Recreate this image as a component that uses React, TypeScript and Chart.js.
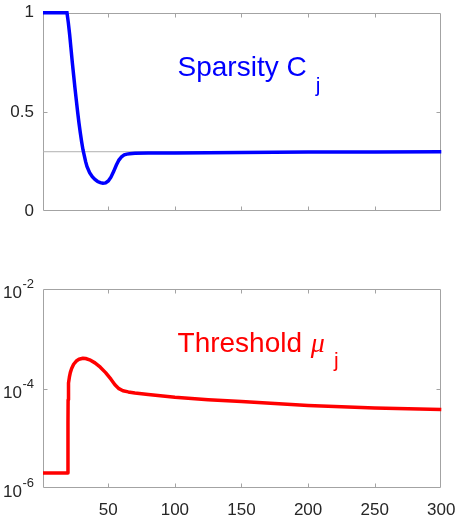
import React, { useEffect, useRef } from "react";
import { Chart, registerables } from "chart.js";

Chart.register(...registerables);

// ---- data ----
const xMin = 1;
const xMax = 300;
const xTicks = [50, 100, 150, 200, 250, 300];

const sparsityX = [1, 19, 20, 21, 22, 23, 24, 25, 26, 27, 28, 29, 30, 31, 32, 33, 34, 36, 38, 40, 42, 44, 46, 48, 50, 52, 54, 56, 58, 60, 62, 64, 66, 70, 80, 100, 150, 200, 250, 300];
const sparsityY = [1, 1, 0.95, 0.89, 0.82, 0.75, 0.685, 0.62, 0.56, 0.5, 0.445, 0.395, 0.35, 0.31, 0.28, 0.25, 0.226, 0.195, 0.174, 0.16, 0.15, 0.144, 0.141, 0.143, 0.153, 0.172, 0.2, 0.232, 0.258, 0.275, 0.284, 0.288, 0.29, 0.292, 0.293, 0.294, 0.296, 0.298, 0.299, 0.3];
const sparsityTicks = [0, 0.5, 1];
const referenceLevel = 0.3;

const thresholdX = [1, 19.7, 19.75, 19.85, 20, 20.3, 20.8, 21.5, 22.5, 24, 26, 28, 31, 33, 36, 40, 44, 48, 52, 55, 58, 61, 65, 70, 80, 100, 125, 150, 175, 200, 225, 250, 275, 300];
const thresholdY = [2e-6, 2e-6, 2e-5, 6e-5, 9.5e-5, 1.3e-4, 1.7e-4, 2.1e-4, 2.55e-4, 3.1e-4, 3.6e-4, 3.9e-4, 4.1e-4, 4.05e-4, 3.8e-4, 3.3e-4, 2.7e-4, 2.1e-4, 1.55e-4, 1.2e-4, 1.0e-4, 9.1e-5, 8.6e-5, 8.2e-5, 7.6e-5, 6.7e-5, 6.0e-5, 5.5e-5, 5.0e-5, 4.6e-5, 4.3e-5, 4.1e-5, 3.95e-5, 3.8e-5];
const thresholdTicks = [1e-6, 1e-4, 1e-2];

const sparsityLabel = { text: "Sparsity C", sub: "j", x: 102, y: 0.683 };
const thresholdLabel = { text: "Threshold ", greek: "μ", sub: "j", x: 102, y: 5.36e-4 };

// ---- styles ----
const AXIS = "#a3a3a3";
const TEXT = "#262626";
const FONT = '"Liberation Sans", Arial, Helvetica, sans-serif';

const framePlugin = {
  id: "frame",
  beforeDatasetsDraw(chart: any) {
    const { ctx, chartArea: a, scales } = chart;
    const L = Math.round(a.left) + 0.5;
    const R = Math.round(a.right) - 0.5;
    const T = Math.round(a.top) + 0.5;
    const B = Math.round(a.bottom) - 0.5;
    ctx.save();
    ctx.strokeStyle = AXIS;
    ctx.lineWidth = 1;
    ctx.beginPath();
    ctx.rect(L, T, R - L, B - T);
    ctx.stroke();
    const tl = 4;
    ctx.beginPath();
    for (const t of scales.x.ticks) {
      const px = Math.round(scales.x.getPixelForValue(t.value)) + 0.5;
      if (px <= L + 1 || px >= R - 1) continue;
      ctx.moveTo(px, B); ctx.lineTo(px, B - tl);
      ctx.moveTo(px, T); ctx.lineTo(px, T + tl);
    }
    for (const t of scales.y.ticks) {
      const py = Math.round(scales.y.getPixelForValue(t.value)) + 0.5;
      if (py <= T + 1 || py >= B - 1) continue;
      ctx.moveTo(L, py); ctx.lineTo(L + tl, py);
      ctx.moveTo(R, py); ctx.lineTo(R - tl, py);
    }
    ctx.stroke();
    ctx.restore();
  },
  afterDatasetsDraw(chart: any, _args: any, opts: any) {
    const { ctx, chartArea: a, scales } = chart;
    ctx.save();
    if (opts && opts.logLabels) {
      ctx.fillStyle = TEXT;
      ctx.textBaseline = "alphabetic";
      ctx.textAlign = "left";
      for (const t of scales.y.ticks) {
        const py = scales.y.getPixelForValue(t.value);
        const exp = String(Math.round(Math.log10(t.value)));
        ctx.font = `17px ${FONT}`;
        const w1 = ctx.measureText("10").width;
        ctx.font = `13px ${FONT}`;
        const w2 = ctx.measureText(exp).width;
        const right = a.left - 9.5;
        const x0 = right - w1 - w2;
        ctx.font = `17px ${FONT}`;
        ctx.fillText("10", x0, py + 9);
        ctx.font = `13px ${FONT}`;
        ctx.fillText(exp, x0 + w1 + 0.5, py - 1);
      }
    }

    const lab = opts && opts.label;
    if (lab) {
      const px = scales.x.getPixelForValue(lab.x);
      const py = scales.y.getPixelForValue(lab.y);
      ctx.fillStyle = lab.color;
      ctx.textBaseline = "alphabetic";
      ctx.textAlign = "left";
      ctx.font = `28px ${FONT}`;
      ctx.fillText(lab.text, px, py);
      let x = px + ctx.measureText(lab.text).width;
      if (lab.greek) {
        ctx.font = `italic 28px "Liberation Serif", "DejaVu Serif", serif`;
        ctx.fillText(lab.greek, x + 1, py);
        x += 1 + ctx.measureText(lab.greek).width + 9;
      } else {
        x += 9;
      }
      ctx.font = `21px ${FONT}`;
      ctx.fillText(lab.sub, x, py + lab.subDrop);
    }
    ctx.restore();
  },
};

function xScale(showLabels: boolean, height: number) {
  return {
    type: "linear",
    min: xMin,
    max: xMax,
    afterBuildTicks: (s: any) => { s.ticks = xTicks.map((value) => ({ value })); },
    afterFit: (s: any) => {
      s.height = height;
      s.paddingLeft = 0;
      s.paddingRight = 0;
      s.paddingTop = 0;
      s.paddingBottom = 0;
    },
    grid: { display: false, drawTicks: false },
    border: { display: false },
    ticks: {
      display: showLabels,
      color: TEXT,
      font: { family: FONT, size: 17 },
      padding: 12,
      maxRotation: 0,
      autoSkip: false,
    },
  };
}

function yFit(s: any) {
  s.width = 43;
  s.paddingLeft = 0;
  s.paddingRight = 0;
  s.paddingTop = 0;
  s.paddingBottom = 0;
}

export default function App() {
  const topRef = useRef<HTMLCanvasElement>(null);
  const botRef = useRef<HTMLCanvasElement>(null);

  useEffect(() => {
    const top = new Chart(topRef.current as HTMLCanvasElement, {
      type: "line",
      data: {
        datasets: [
          {
            data: sparsityX.map((x, i) => ({ x, y: sparsityY[i] })),
            borderColor: "#0000ff",
            borderWidth: 3.5,
            pointRadius: 0,
            tension: 0,
            clip: 6,
            order: 0,
          } as any,
          {
            data: [{ x: xMin, y: referenceLevel }, { x: xMax, y: referenceLevel }],
            borderColor: "#b0b0b0",
            borderWidth: 1,
            pointRadius: 0,
            order: 1,
          },
        ],
      },
      options: {
        responsive: false,
        animation: false,
        events: [],
        layout: { padding: { top: 12.7, right: 17.7, left: 0, bottom: 0 } },
        plugins: {
          legend: { display: false },
          tooltip: { enabled: false },
          frame: { label: { ...sparsityLabel, color: "#0000ff", subDrop: 16 } },
        } as any,
        scales: {
          x: xScale(false, 240 - 211.3) as any,
          y: {
            type: "linear",
            min: 0,
            max: 1,
            afterBuildTicks: (s: any) => { s.ticks = sparsityTicks.map((value) => ({ value })); },
            afterFit: yFit,
            grid: { display: false, drawTicks: false },
            border: { display: false },
            ticks: {
              color: TEXT,
              font: { family: FONT, size: 17 },
              padding: 9,
              callback: (v: any) => String(v),
            },
          },
        },
      },
      plugins: [framePlugin],
    });

    const bot = new Chart(botRef.current as HTMLCanvasElement, {
      type: "line",
      data: {
        datasets: [
          {
            data: thresholdX.map((x, i) => ({ x, y: thresholdY[i] })),
            borderColor: "#ff0000",
            borderWidth: 3.5,
            borderJoinStyle: "round",
            pointRadius: 0,
            tension: 0,
            clip: 6,
          } as any,
        ],
      },
      options: {
        responsive: false,
        animation: false,
        events: [],
        layout: { padding: { top: 289.3 - 240, right: 17.7, left: 0, bottom: 0 } },
        plugins: {
          legend: { display: false },
          tooltip: { enabled: false },
          frame: { logLabels: true, label: { ...thresholdLabel, color: "#ff0000", subDrop: 15 } },
        } as any,
        scales: {
          x: xScale(true, 517 - 488) as any,
          y: {
            type: "logarithmic",
            min: 1e-6,
            max: 1e-2,
            afterBuildTicks: (s: any) => { s.ticks = thresholdTicks.map((value) => ({ value })); },
            afterFit: yFit,
            grid: { display: false, drawTicks: false },
            border: { display: false },
            ticks: { display: true, callback: () => "" },
          },
        },
      },
      plugins: [framePlugin],
    });

    return () => {
      top.destroy();
      bot.destroy();
    };
  }, []);

  return (
    <div style={{ position: "absolute", left: 0, top: 0, width: 459, height: 517, background: "#fff" }}>
      <canvas ref={topRef} width={459} height={240} style={{ position: "absolute", left: 0, top: 0, width: 459, height: 240 }} />
      <canvas ref={botRef} width={459} height={277} style={{ position: "absolute", left: 0, top: 240, width: 459, height: 277 }} />
    </div>
  );
}
